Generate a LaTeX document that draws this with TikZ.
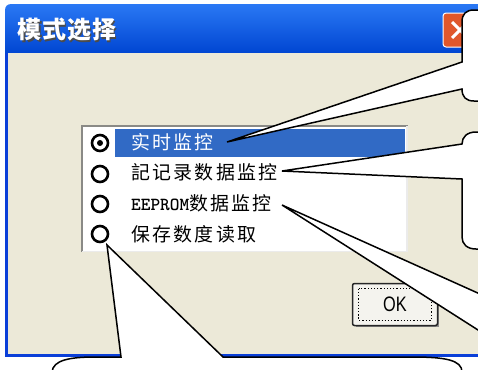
\documentclass[tikz,border=0pt]{standalone}
\usepackage{fontspec}
\setmainfont{Liberation Sans}
\newfontfamily\cjk[LetterSpace=12]{Noto Sans CJK SC}
\newfontfamily\cjkt[LetterSpace=4]{Noto Sans CJK SC}
\usetikzlibrary{calc}
\definecolor{xpbeige}{HTML}{ECE9D8}
\definecolor{xpsel}{HTML}{316AC5}
\definecolor{xpblue}{HTML}{0055E5}
\definecolor{xptop}{HTML}{2A78F4}
\definecolor{xpbot}{HTML}{0046D2}
\definecolor{xpedge}{HTML}{0A3FD8}
\definecolor{xpred}{HTML}{E0572B}
\definecolor{xpgray}{HTML}{8A8A86}
\definecolor{btnface}{HTML}{F4F3EE}
\begin{document}
\begin{tikzpicture}[x=1bp,y=-1bp,
  callout/.style={draw=black,fill=white,line width=1.5bp,line join=miter},
  radio/.style={circle,draw=black,line width=2.6bp,minimum size=16bp,inner sep=0pt},
  item/.style={anchor=west,inner sep=0pt,font=\cjk\fontsize{19}{19}\selectfont},
  okbtn/.style={draw=black!85,fill=btnface,line width=1.5bp,rounded corners=2bp,
    minimum width=85bp,minimum height=42bp,inner sep=0pt,font=\fontsize{21}{21}\selectfont}]
\useasboundingbox (0,0) rectangle (478,369);
\fill[white] (0,0) rectangle (478,369);
% window frame
\fill[xpedge] (5,30) rectangle (490,357);
\shade[top color=xptop,middle color=xpblue,bottom color=xpbot]
  (5,53) -- (5,11) .. controls (5,6) and (7,4) .. (12,4) -- (490,4) -- (490,53) -- cycle;
\fill[xpbeige] (8,53) rectangle (490,353.5);
% title
\node[anchor=west,text=black!70,font=\cjkt\bfseries\fontsize{24}{24}\selectfont] at (15.5,31.5) {模式选择};
\node[anchor=west,text=white,font=\cjkt\bfseries\fontsize{24}{24}\selectfont] (title) at (14,30) {模式选择};
% close button
\draw[white,line width=1bp,fill=xpred,rounded corners=3bp] (443,13) rectangle (480,47);
\draw[white,line width=3bp] (452,22) -- (468,38) (452,38) -- (468,22);
% list box
\fill[white] (81,125) rectangle (408,252);
\draw[xpgray,line width=2bp] (82,252) -- (82,126) -- (408,126);
\draw[white!92!black,line width=1.2bp] (407,126) -- (407,251.5) -- (82,251.5);
\fill[xpsel] (115,129) rectangle (405,157);
% radios
\node[radio] (r1) at (100,143) {};
\fill (r1.center) circle (3bp);
\node[radio] (r2) at (100,174) {};
\node[radio] (r3) at (100,204) {};
\node[radio] (r4) at (100,234) {};
% items
\node[item,text=white] (t1) at (131,142) {实时监控};
\node[item] (t2) at (131,172) {記记录数据监控};
\node[item] (t3) at (131,203) {{\ttfamily\bfseries\fontsize{18.5}{18.5}\selectfont EEPROM}数据监控};
\node[item] (t4) at (131,234) {保存数度读取};
% OK button
\fill[black!45] (356,286) rectangle (439,327);
\node[okbtn] (ok) at (395,304.5) {\scalebox{0.78}[1]{OK}};
\draw[dotted,line width=1.2bp] ($(ok.north west)+(7,6)$) rectangle ($(ok.south east)+(-7,-6)$);
% callouts
\coordinate (tA) at (227,142);
\coordinate (tB) at (282,171);
\coordinate (tC) at (282,205);
\coordinate (tD) at (107,245);
\draw[callout] (tA) -- (462,62) -- (462,22) .. controls (462,14) and (466,10) .. (474,10)
  -- (490,10) -- (490,101) -- (474,101) .. controls (466,101) and (462,97) .. (462,89) -- cycle;
\draw[callout] (tB) -- (462,144) .. controls (462,137) and (467,132) .. (476,132)
  -- (490,132) -- (490,249) -- (476,249) .. controls (467,249) and (462,244) .. (462,237)
  -- (462,179) -- cycle;
\draw[callout] (tC) -- (500,303) -- (500,344) -- cycle;
\draw[callout] (tD) -- (121,357) -- (95,357) .. controls (70,357) and (53,360) .. (52,372)
  -- (52,390) -- (462,390) -- (462,372) .. controls (462,360) and (445,357) .. (413,357)
  -- (223,357) -- cycle;
\end{tikzpicture}
\end{document}
